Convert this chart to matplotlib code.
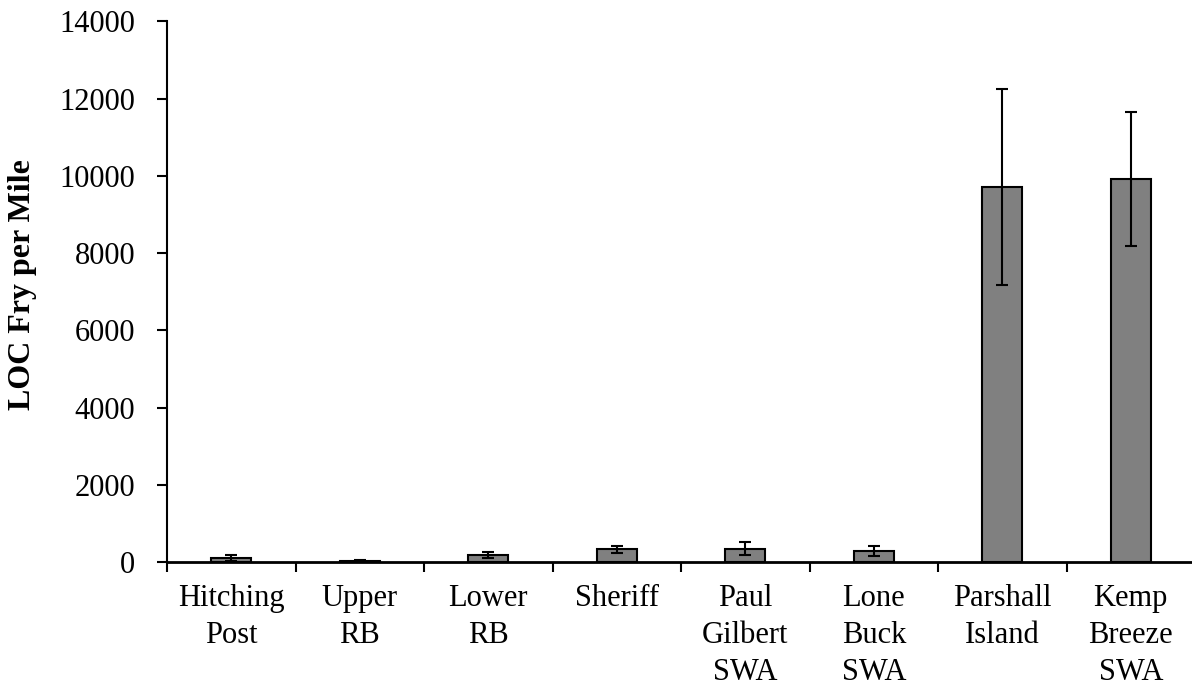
import numpy as np
import matplotlib
matplotlib.use("Agg")
import matplotlib.pyplot as plt

sites = ["Hitching\nPost", "Upper\nRB", "Lower\nRB", "Sheriff",
         "Paul\nGilbert\nSWA", "Lone\nBuck\nSWA", "Parshall\nIsland",
         "Kemp\nBreeze\nSWA"]
fry_per_mile = [100, 30, 180, 330, 340, 285, 9715, 9920]
fry_err = [75, 10, 80, 85, 170, 125, 2530, 1740]

plt.rcParams["font.family"] = ["Liberation Serif", "DejaVu Serif"]

fig = plt.figure(figsize=(11.92, 6.88), dpi=100)
# axes box placed in pixel terms (right edge runs off the figure like the original)
ax = fig.add_axes([167 / 1192, 126 / 688, 1028 / 1192, 540.7 / 688])

x = np.arange(len(sites))
ax.bar(x, fry_per_mile, width=0.31, color="#808080", edgecolor="black",
       linewidth=1.5, zorder=2)
ax.errorbar(x, fry_per_mile, yerr=fry_err, fmt="none", ecolor="black",
            elinewidth=1.5, capsize=4.5, capthick=1.5, zorder=3)

ax.set_xlim(-0.5, len(sites) - 0.5)
ax.set_ylim(0, 14000)
ax.set_yticks(np.arange(0, 14001, 2000))
ax.set_xticks(np.arange(len(sites) + 1) - 0.5)
ax.set_xticklabels([])
ax.set_xticks(x, minor=True)
ax.set_xticklabels(sites, minor=True, fontsize=22, linespacing=1.36)
ax.tick_params(axis="x", which="minor", length=0, pad=16)
ax.tick_params(axis="x", which="major", direction="out", length=7, width=1.5)
ax.tick_params(axis="y", direction="out", length=7, width=1.5, labelsize=22, pad=16)

for side in ["top", "right"]:
    ax.spines[side].set_visible(False)
ax.spines["left"].set_linewidth(1.5)
ax.spines["bottom"].set_linewidth(2)

fig.text(23 / 1192, 1 - 285 / 688, "LOC Fry per Mile", rotation=90,
         fontsize=23, fontweight="bold", ha="center", va="center")

plt.savefig("out.png", dpi=100)
plt.close()
